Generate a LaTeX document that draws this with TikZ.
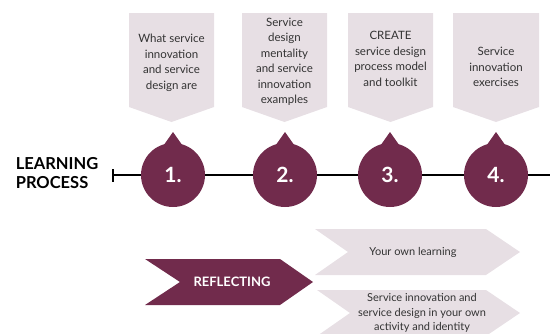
\documentclass[tikz,border=0pt]{standalone}
\usepackage{fontspec}
\setmainfont{Lato}
\usetikzlibrary{calc}
\usetikzlibrary{arrows.meta}
\definecolor{plum}{RGB}{113,43,76}
\definecolor{mist}{RGB}{231,223,228}
\tikzset{
  card/.style= {fill=mist},
  cardtext/.style= {align=center, text=black!80, font=\fontsize{11.5}{15.5}\selectfont},
  bubble/.style= {circle, fill=plum, minimum size=64pt, inner sep=0, text=white, font=\bfseries\fontsize{21}{21}\selectfont},
  chevtext/.style= {align=center, text=black!80, font=\fontsize{11}{14.5}\selectfont},
}

\begin{document}
\begin{tikzpicture}[x=1pt, y=-1pt]
  \useasboundingbox (0,0) rectangle (550,333);
  % question cards
  \foreach \a/\b in {129/214, 242/327, 348/433, 453/539}
    \fill [card] (\a,13) -- (\b,13) -- (\b,107) -- ({(\a+\b)/2},122) -- (\a,107) -- cycle ;
  \node [cardtext] (q1) at (171.5,63) {What service\\innovation\\and service\\design are} ;
  \node [cardtext] (q2) at (284.5,62) {Service\\design\\mentality\\and service\\innovation\\examples} ;
  \node [cardtext] (q3) at (390.5,59) {CREATE\\service design\\process model\\and toolkit} ;
  \node [cardtext] (q4) at (496,67) {Service\\innovation\\exercises} ;

  % timeline
  \node [align=left, font=\bfseries\fontsize{16.5}{19}\selectfont] (lp) at (57,173) {LEARNING\\PROCESS} ;
  \coordinate (t0) at (112,175) ;
  \coordinate (t1) at (550,175) ;
  \draw [line width=2pt, {Bar[width=13pt]}-] (t0) -- (t1) ;
  \foreach \n/\x in {1/173, 2/285, 3/390, 4/496} {
    \fill [plum] (\x-12,149) -- (\x,132) -- (\x+12,149) -- cycle ;
    \node [bubble] (s\n) at (\x,175) {\n.} ;
  }

  % reflecting
  \fill [plum] (145,259) -- (280,259) -- (313,282) -- (280,305) -- (145,305) -- (180,282) -- cycle ;
  \node [text=white, font=\bfseries\fontsize{13}{13}\selectfont] (refl) at (232,282) {REFLECTING} ;
  \fill [card] (315,229) -- (486,229) -- (520,252) -- (486,275) -- (315,275) -- (348,252) -- cycle ;
  \fill [card] (317,290) -- (486,290) -- (520,313) -- (486,336) -- (317,336) -- (350,313) -- cycle ;
  \node [chevtext] (own) at (413,252) {Your own learning} ;
  \node [chevtext] (act) at (422,313) {Service innovation and\\service design in your own\\activity and identity} ;
\end{tikzpicture}
\end{document}
